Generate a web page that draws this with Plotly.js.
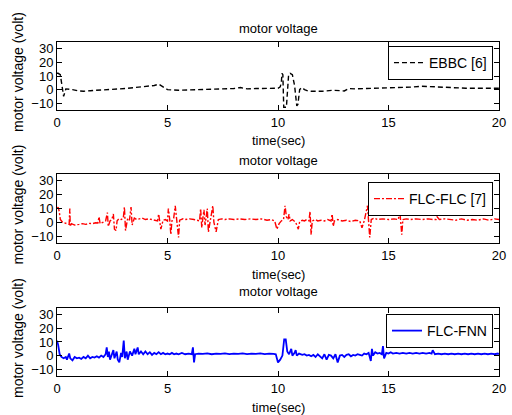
<!DOCTYPE html>
<html>
<head>
<meta charset="utf-8">
<script src="https://cdn.plot.ly/plotly-3.0.1.min.js"></script>
<style>
  html, body { margin: 0; padding: 0; background: #fff; }
  #chart { width: 512px; height: 415px; }
</style>
</head>
<body>
<div id="chart"></div>
<script>
// Motor voltage responses of three controllers (time in seconds, voltage in volts)
const ebbcTime = [0, 0.05, 0.15, 0.2, 0.3, 0.4, 0.5, 0.7, 1.0, 1.2, 1.5, 2.0, 2.4, 2.8, 3.2, 3.5, 3.8, 4.1, 4.4, 4.6, 4.8, 5.0, 5.5, 6.0, 6.5, 7.0, 7.5, 8.0, 8.3, 8.6, 9.0, 9.5, 10.0, 10.1, 10.15, 10.18, 10.22, 10.26, 10.38, 10.48, 10.55, 10.65, 10.75, 10.85, 10.9, 10.98, 11.08, 11.2, 11.35, 11.5, 12.0, 12.5, 13.0, 13.2, 13.5, 14.0, 14.5, 15.0, 15.5, 16.0, 16.5, 17.0, 17.5, 18.0, 18.5, 19.0, 19.5, 20];
const ebbcVolt = [12, 12, 11, 5, -5, 0.5, 0.5, 0, -1, -1.2, -0.8, -0.5, 0, 0.5, 1, 1.5, 1.5, 2, 3, 4, 2, 0, -0.5, -0.3, 0, 0.3, 0.5, 0.8, 1.5, 0.5, 0.8, 1, 1, 2, 5, 12, 11, -13, -13, 11, 12, 11, 3, -12, -11, 0, 1.5, 0, -1, -1.2, -1.2, -0.5, -1, 0.8, 0.5, 0.8, 1, 1.2, 1.5, 1.8, 2.5, 2, 1.5, 1, 1, 1, 1, 1];

const flcTime = [0, 0.05, 0.1, 0.15, 0.25, 0.4, 0.55, 0.58, 0.6, 0.65, 0.8, 1.0, 1.15, 1.3, 1.45, 1.6, 1.75, 1.85, 1.9, 1.95, 2.1, 2.2, 2.28, 2.32, 2.4, 2.48, 2.55, 2.6, 2.67, 2.72, 2.8, 2.9, 3.0, 3.05, 3.1, 3.2, 3.28, 3.35, 3.4, 3.5, 3.6, 3.7, 3.85, 4.0, 4.15, 4.3, 4.45, 4.55, 4.6, 4.7, 4.8, 4.9, 5.0, 5.04, 5.1, 5.15, 5.2, 5.28, 5.35, 5.42, 5.5, 5.55, 5.7, 5.8, 6.0, 6.2, 6.35, 6.45, 6.5, 6.55, 6.6, 6.65, 6.7, 6.8, 6.85, 6.95, 7.05, 7.1, 7.2, 7.3, 7.45, 7.6, 7.8, 8.0, 8.25, 8.5, 8.75, 9.0, 9.25, 9.5, 9.7, 9.85, 9.95, 10.05, 10.15, 10.25, 10.32, 10.38, 10.45, 10.5, 10.55, 10.65, 10.8, 10.92, 10.98, 11.1, 11.2, 11.3, 11.4, 11.45, 11.5, 11.55, 11.7, 11.8, 11.95, 12.1, 12.25, 12.4, 12.45, 12.5, 12.55, 12.7, 12.9, 13.1, 13.3, 13.5, 13.7, 13.8, 13.9, 14.05, 14.1, 14.15, 14.22, 14.35, 14.5, 14.75, 15.0, 15.25, 15.45, 15.5, 15.55, 15.6, 15.65, 15.8, 16.0, 16.25, 16.5, 16.8, 17.0, 17.15, 17.2, 17.3, 17.55, 17.8, 18.05, 18.3, 18.55, 18.8, 19.05, 19.3, 19.55, 19.8, 20];
const flcVolt = [10, 11, 8, 2, 0, -1, -1.5, 10, -3, -1, -2, -1.5, -1, -1.5, -0.8, -1, -0.3, -0.5, 4, -1, 0, 1, 7, -3, 1, 2, 6, -5, -6, 1, 2.5, 2, 3, 11, -6, 3, 1.5, 11, -2, 3, 2, 2.5, 3, 2, 2.5, 2, 1.5, 1, 6, -5, 1.5, 2, 1, 10, 2, -9, 1, 3, 12, 1, -11, 1.5, 2.5, 2, 2.5, 2, 1.5, 1, 10, -4, 3, 9, -2, 10, -7, 2, 12, 0, -7, 2, 2.5, 2, 2.5, 2, 2.5, 2, 2.5, 2, 2.5, 1.5, 2, 1, -5, -1, 1, 2, 12, 4, 2, 6, 1, 2, 0, -5, 0.5, 1.5, 1, 2, 1, 8, -9, 1, 2, 1, 1.5, 1, 2, 1, 6, -3, 1, 2, 1, 1.5, 0.5, 1.5, 1, -4, 1, 12, 2, -11, 2, 3, 2, 2.5, 2, 2.5, 2, 10, 1, -9, 2, 2.5, 2, 2.5, 2, 2.5, 2, 2, 4, 2, 2.5, 2, 1.5, 2.5, 1.5, 2, 1.5, 2.5, 1.5, 2.5, 2];

const fnnTime = [0, 0.05, 0.12, 0.2, 0.3, 0.4, 0.45, 0.5, 0.55, 0.6, 0.7, 0.8, 0.9, 1.0, 1.1, 1.2, 1.3, 1.4, 1.5, 1.6, 1.7, 1.8, 1.9, 2.0, 2.1, 2.2, 2.25, 2.3, 2.35, 2.4, 2.5, 2.55, 2.6, 2.7, 2.75, 2.82, 2.9, 2.95, 3.02, 3.07, 3.15, 3.2, 3.3, 3.4, 3.5, 3.55, 3.65, 3.7, 3.8, 3.9, 4.0, 4.1, 4.2, 4.3, 4.4, 4.5, 4.6, 4.7, 4.8, 4.9, 5.0, 5.1, 5.2, 5.3, 5.4, 5.5, 5.65, 5.8, 5.95, 6.1, 6.15, 6.2, 6.25, 6.4, 6.6, 6.8, 7.0, 7.2, 7.4, 7.6, 7.8, 8.0, 8.2, 8.4, 8.6, 8.8, 9.0, 9.2, 9.4, 9.6, 9.8, 9.9, 10.0, 10.1, 10.2, 10.28, 10.35, 10.42, 10.5, 10.6, 10.65, 10.75, 10.8, 10.85, 10.95, 11.0, 11.1, 11.2, 11.3, 11.4, 11.5, 11.6, 11.7, 11.8, 11.9, 12.0, 12.1, 12.2, 12.3, 12.4, 12.5, 12.6, 12.7, 12.8, 12.9, 13.0, 13.1, 13.2, 13.3, 13.4, 13.5, 13.6, 13.7, 13.8, 13.9, 14.0, 14.1, 14.2, 14.25, 14.3, 14.4, 14.5, 14.6, 14.7, 14.75, 14.8, 14.9, 15.0, 15.1, 15.2, 15.35, 15.5, 15.65, 15.8, 15.95, 16.1, 16.25, 16.4, 16.55, 16.7, 16.85, 16.95, 17.0, 17.1, 17.25, 17.4, 17.55, 17.7, 17.85, 18.0, 18.15, 18.3, 18.45, 18.6, 18.75, 18.9, 19.05, 19.2, 19.35, 19.5, 19.65, 19.8, 19.95, 20];
const fnnVolt = [11, 8, 1, -1, -2, -1, -3, -1, 1.5, -2, -3.5, -1, -2, -1.5, -2.5, -1, -2, 0, -2, -1, -1.5, -0.5, -1.5, 0, -1, 1, 6, -1, 3, -3, 2, 4, -2, 3, -3, -5, 2, -1, 11, -2, 3, -3, 3, 0, 5, 1, 6, 1, 3, 1, 3, 1, 2.5, 0.5, 2, 1, 2.5, 1, 2, 1, 1.5, 1, 2, 1, 1.5, 1, 2, 1, 1.5, 1, 6, -5, 1, 1.5, 1.2, 1.6, 1, 1.5, 1.2, 1.6, 1.1, 1.5, 1.2, 1.6, 1.1, 1.5, 1.2, 1.6, 1.1, 1.5, 1.2, 1, -5, -3, 0, 12, 12, 3, 1, 5, 0, 2, 4, 0, 1.5, 1, 0.5, 1, 0, 0.5, -0.5, 0.5, -1, 1, -0.5, -2, 1, -3, 0.5, 0, -2, 1, -5, 0, 0.5, -1, 0.5, 1, -0.5, 0.5, 0, 1, 0.5, 0, 1.5, 1, 2, -4, 5, 0, 2.5, 1.5, 2, 1, 7, -2, 2, 1.5, 2.5, 1.5, 2, 1.5, 2, 1.5, 2, 1.5, 2, 1.5, 2, 1.5, 2, 1.5, 4, 1, 1.5, 1, 1.5, 1, 1.5, 1, 1.5, 1, 1.5, 1, 1.5, 1, 1.5, 1, 1.5, 1, 1.5, 1, 1.5, 1, 1.5, 1];

const seriesNames = ['EBBC [6]', 'FLC-FLC [7]', 'FLC-FNN'];
const plotTitle = 'motor voltage';
const xLabel = 'time(sec)';
const yLabel = 'motor voltage (volt)';
const xTicks = [0, 5, 10, 15, 20];
const yTicks = [-10, 0, 10, 20, 30];

const FONT = 'Liberation Sans, Arial, sans-serif';

const traces = [
  { x: ebbcTime, y: ebbcVolt, name: seriesNames[0], xaxis: 'x', yaxis: 'y', legend: 'legend',
    mode: 'lines', line: { color: '#000000', width: 1.4, dash: '5px,3px' } },
  { x: flcTime, y: flcVolt, name: seriesNames[1], xaxis: 'x2', yaxis: 'y2', legend: 'legend2',
    mode: 'lines', line: { color: '#ff0000', width: 1.4, dash: '6px,2px,2px,2px' } },
  { x: fnnTime, y: fnnVolt, name: seriesNames[2], xaxis: 'x3', yaxis: 'y3', legend: 'legend3',
    mode: 'lines', line: { color: '#0000ff', width: 1.8 } }
];

// Panel geometry (plot area spans pixel rows 42..376, 334 px tall)
const domains = [[0.7964, 1], [0.3982, 0.6048], [0, 0.2036]];
const titleY = [1.0419, 0.6467, 0.2515];
const xLabelY = [0.7036, 0.3024, -0.0958];
const legendTop = [0.988, 0.5808, 0.1856];

function xAxis(anchor) {
  return {
    anchor: anchor, domain: [0, 1], range: [0, 20], tickvals: xTicks,
    ticks: 'inside', ticklen: 5, tickcolor: '#000', showline: true, linecolor: '#000',
    linewidth: 1, mirror: 'allticks', showgrid: false, zeroline: false,
    tickfont: { family: FONT, size: 13, color: '#000' }
  };
}
function yAxis(anchor, dom) {
  return {
    anchor: anchor, domain: dom, range: [-15, 35], tickvals: yTicks,
    ticks: 'inside', ticklen: 5, tickcolor: '#000', showline: true, linecolor: '#000',
    linewidth: 1, mirror: 'allticks', showgrid: false, zeroline: false,
    tickfont: { family: FONT, size: 13, color: '#000' }
  };
}
function legendBox(top) {
  return {
    x: 0.9864, xanchor: 'right', y: top, yanchor: 'top',
    bgcolor: '#ffffff', bordercolor: '#000', borderwidth: 1,
    font: { family: FONT, size: 14, color: '#000' }
  };
}

const annotations = [];
for (let i = 0; i < 3; i++) {
  annotations.push({ text: plotTitle, xref: 'paper', yref: 'paper', x: 0.5, y: titleY[i],
    xanchor: 'center', yanchor: 'middle', showarrow: false,
    font: { family: FONT, size: 13, color: '#000' } });
  annotations.push({ text: xLabel, xref: 'paper', yref: 'paper', x: 0.5, y: xLabelY[i],
    xanchor: 'center', yanchor: 'middle', showarrow: false,
    font: { family: FONT, size: 13, color: '#000' } });
  annotations.push({ text: yLabel, xref: 'paper', yref: 'paper', x: -0.0882,
    y: (domains[i][0] + domains[i][1]) / 2 + 0.012, xanchor: 'center', yanchor: 'middle',
    textangle: -90, showarrow: false,
    font: { family: FONT, size: 14, color: '#000' } });
}

const layout = {
  width: 512, height: 415,
  margin: { l: 57, r: 13, t: 42, b: 39 },
  paper_bgcolor: '#ffffff', plot_bgcolor: '#ffffff',
  showlegend: true,
  xaxis: xAxis('y'), yaxis: yAxis('x', domains[0]),
  xaxis2: xAxis('y2'), yaxis2: yAxis('x2', domains[1]),
  xaxis3: xAxis('y3'), yaxis3: yAxis('x3', domains[2]),
  legend: legendBox(legendTop[0]),
  legend2: legendBox(legendTop[1]),
  legend3: legendBox(legendTop[2]),
  annotations: annotations
};

Plotly.newPlot('chart', traces, layout, { staticPlot: true, displayModeBar: false });
</script>
</body>
</html>
